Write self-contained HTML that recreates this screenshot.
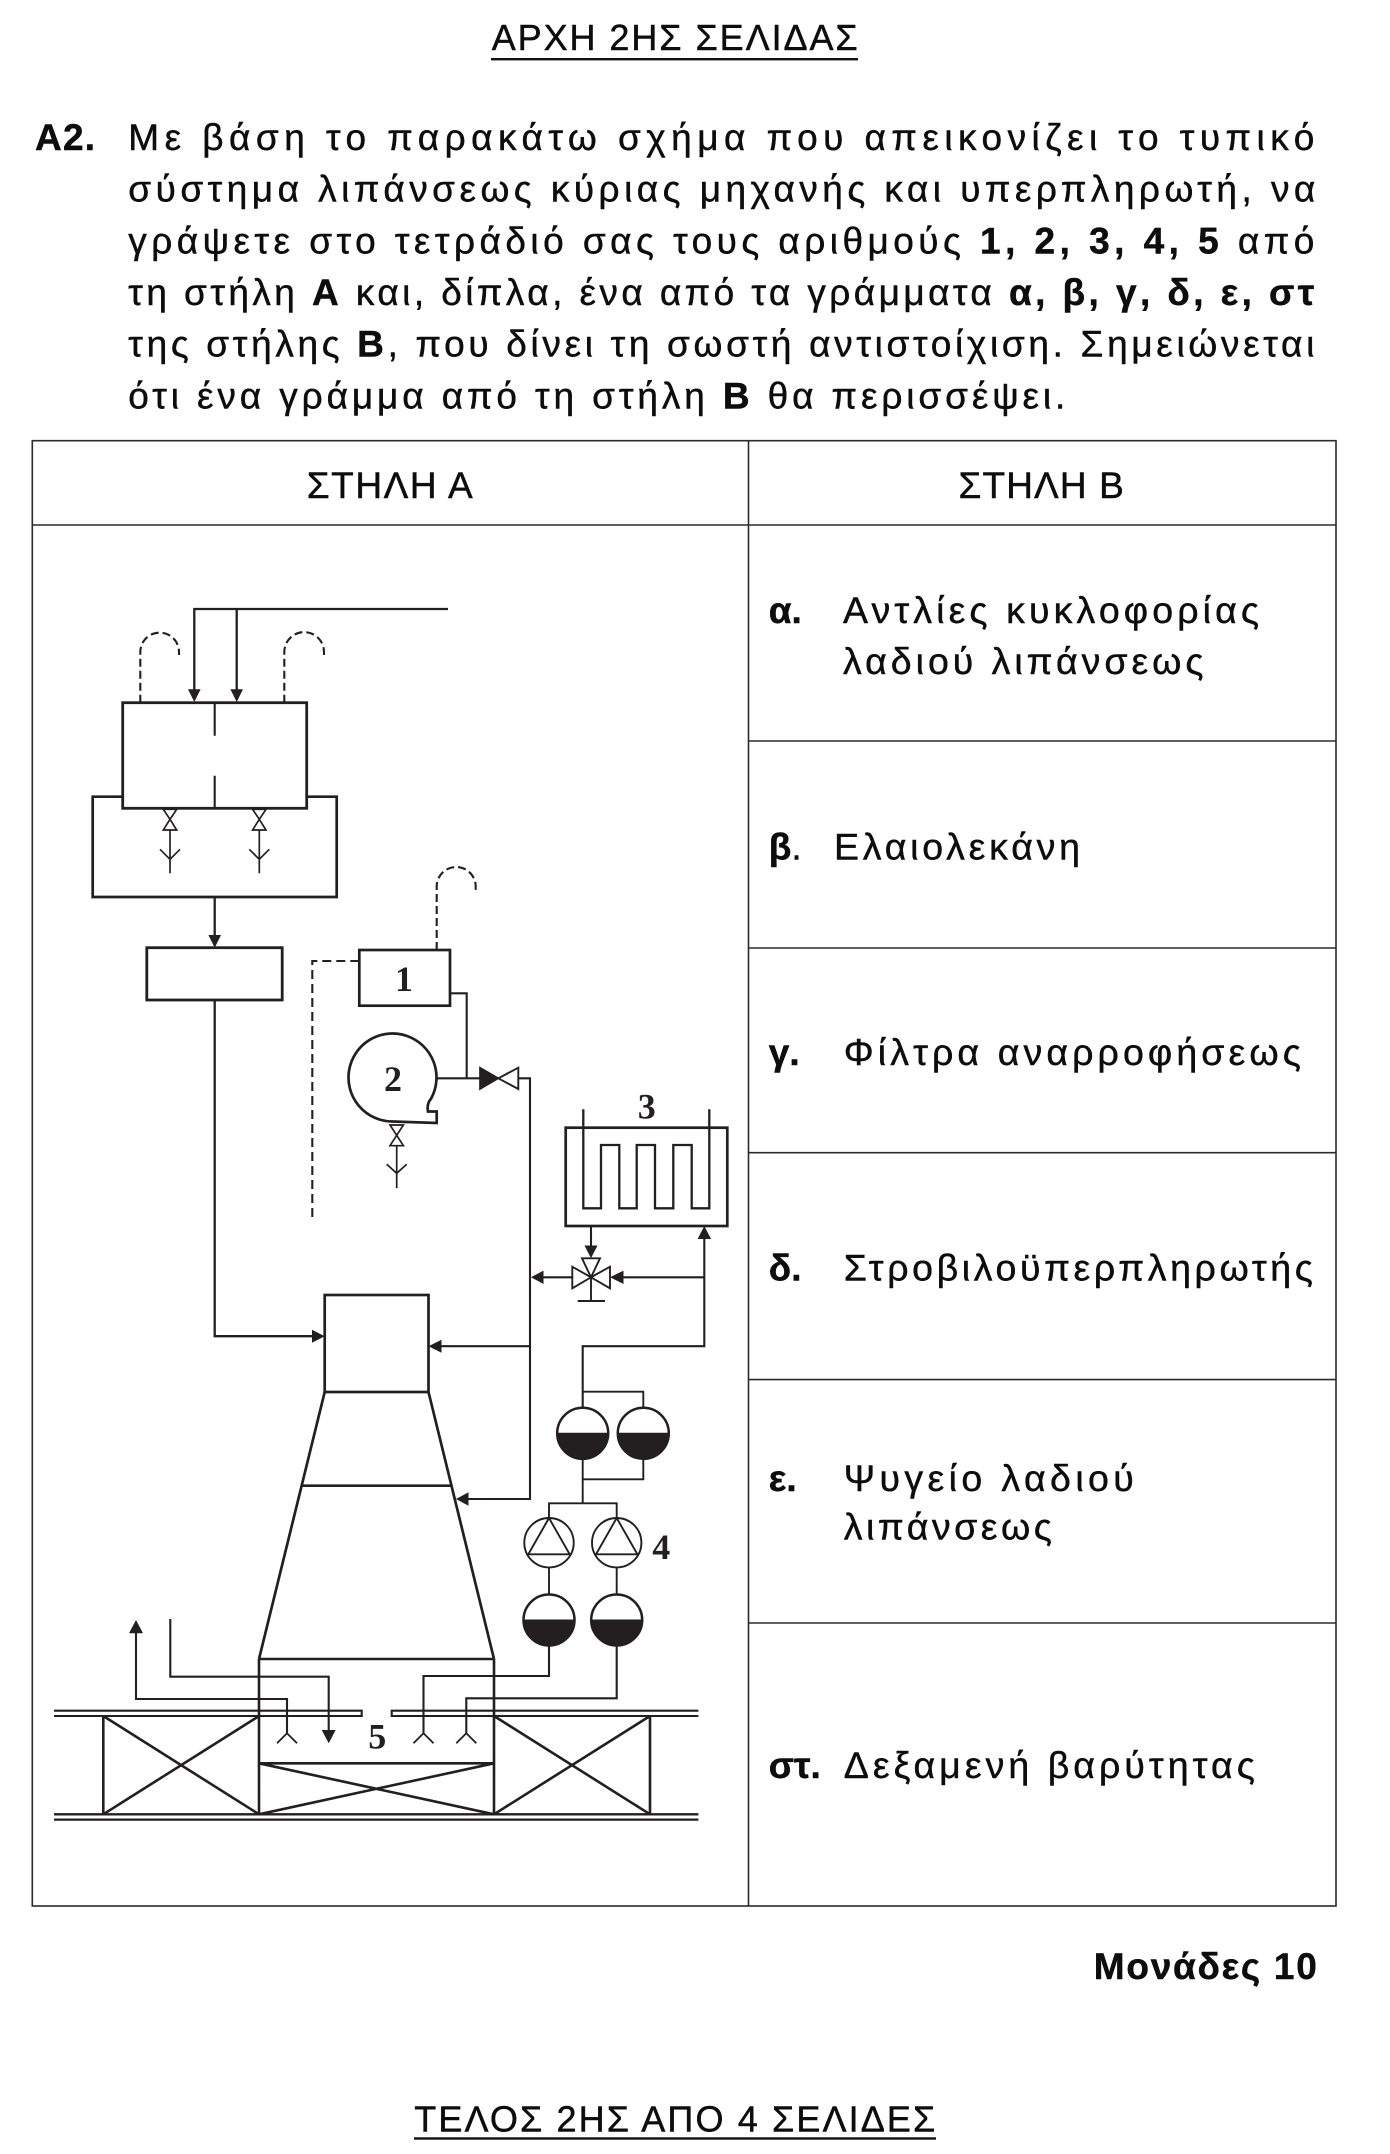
<!DOCTYPE html>
<html><head><meta charset="utf-8"><style>
html,body{margin:0;padding:0;background:#fff}
svg{display:block}
.t{font-family:"Liberation Sans",sans-serif;fill:#0d0d0d;stroke:#0d0d0d;stroke-width:0.45px}
.n{font-family:"Liberation Serif",serif;font-weight:bold;fill:#231f20;font-size:36px}
</style></head><body>
<svg width="1390" height="2154" viewBox="0 0 1390 2154" xmlns="http://www.w3.org/2000/svg">
<rect width="1390" height="2154" fill="#fff"/>

<!-- Title -->
<text class="t" x="491.7" y="50" font-size="36" textLength="366" lengthAdjust="spacing">ΑΡΧΗ 2ΗΣ ΣΕΛΙΔΑΣ</text>
<rect x="491" y="58" width="367" height="2.4" fill="#111"/>

<!-- Paragraph -->
<text class="t" x="35" y="150" font-size="37" font-weight="bold" textLength="60" lengthAdjust="spacing">Α2.</text>
<text class="t" x="128.3" y="150" font-size="37" textLength="1186" lengthAdjust="spacing">Με βάση το παρακάτω σχήμα που απεικονίζει το τυπικό</text>
<text class="t" x="128.3" y="201.7" font-size="37" textLength="1187" lengthAdjust="spacing">σύστημα λιπάνσεως κύριας μηχανής και υπερπληρωτή, να</text>
<text class="t" x="128.3" y="253.3" font-size="37" textLength="1186" lengthAdjust="spacing">γράψετε στο τετράδιό σας τους αριθμούς <tspan font-weight="bold">1, 2, 3, 4, 5</tspan> από</text>
<text class="t" x="128.3" y="305" font-size="37" textLength="1186" lengthAdjust="spacing">τη στήλη <tspan font-weight="bold">Α</tspan> και, δίπλα, ένα από τα γράμματα <tspan font-weight="bold">α, β, γ, δ, ε, στ</tspan></text>
<text class="t" x="128.3" y="356.7" font-size="37" textLength="1186" lengthAdjust="spacing">της στήλης <tspan font-weight="bold">Β</tspan>, που δίνει τη σωστή αντιστοίχιση. Σημειώνεται</text>
<text class="t" x="128.3" y="408.3" font-size="37" textLength="937" lengthAdjust="spacing">ότι ένα γράμμα από τη στήλη <tspan font-weight="bold">Β</tspan> θα περισσέψει.</text>

<!-- Table -->
<g stroke="#2b2b2b" stroke-width="1.6" fill="none">
<rect x="32.3" y="440.7" width="1303.7" height="1465.3"/>
<line x1="32.3" y1="525" x2="1336" y2="525"/>
<line x1="748.5" y1="440.7" x2="748.5" y2="1906"/>
<line x1="748.5" y1="741" x2="1336" y2="741"/>
<line x1="748.5" y1="948" x2="1336" y2="948"/>
<line x1="748.5" y1="1152.7" x2="1336" y2="1152.7"/>
<line x1="748.5" y1="1379.6" x2="1336" y2="1379.6"/>
<line x1="748.5" y1="1623" x2="1336" y2="1623"/>
</g>
<text class="t" x="306.7" y="498" font-size="37" textLength="166" lengthAdjust="spacing">ΣΤΗΛΗ Α</text>
<text class="t" x="958.5" y="498" font-size="37" textLength="165.3" lengthAdjust="spacing">ΣΤΗΛΗ Β</text>

<!-- Column B -->
<text class="t" x="768.8" y="623" font-size="37" font-weight="bold">α.</text>
<text class="t" x="843" y="623" font-size="37.5" textLength="416" lengthAdjust="spacing">Αντλίες κυκλοφορίας</text>
<text class="t" x="843" y="674" font-size="37.5" textLength="360.5" lengthAdjust="spacing">λαδιού λιπάνσεως</text>

<text class="t" x="768.8" y="859.6" font-size="37"><tspan font-weight="bold">β</tspan>.</text>
<text class="t" x="834" y="859.6" font-size="37.5" textLength="246" lengthAdjust="spacing">Ελαιολεκάνη</text>

<text class="t" x="768.8" y="1065" font-size="37" font-weight="bold">γ.</text>
<text class="t" x="843.8" y="1065" font-size="37.5" textLength="457" lengthAdjust="spacing">Φίλτρα αναρροφήσεως</text>

<text class="t" x="768.8" y="1280.4" font-size="37" font-weight="bold">δ.</text>
<text class="t" x="843.8" y="1280.4" font-size="37.5" textLength="469" lengthAdjust="spacing">Στροβιλοϋπερπληρωτής</text>

<text class="t" x="768.8" y="1491" font-size="37" font-weight="bold">ε.</text>
<text class="t" x="843.8" y="1491" font-size="37.5" textLength="290" lengthAdjust="spacing">Ψυγείο λαδιού</text>
<text class="t" x="843.8" y="1539.6" font-size="37.5" textLength="208" lengthAdjust="spacing">λιπάνσεως</text>

<text class="t" x="768.8" y="1778" font-size="37" font-weight="bold" textLength="52" lengthAdjust="spacing">στ.</text>
<text class="t" x="843.8" y="1778" font-size="37.5" textLength="411" lengthAdjust="spacing">Δεξαμενή βαρύτητας</text>

<!-- Footer -->
<text class="t" x="1093.8" y="1979" font-size="37" font-weight="bold" textLength="223" lengthAdjust="spacing">Μονάδες 10</text>
<text class="t" x="414.3" y="2131.7" font-size="36" textLength="521" lengthAdjust="spacing">ΤΕΛΟΣ 2ΗΣ ΑΠΟ 4 ΣΕΛΙΔΕΣ</text>
<rect x="414" y="2137.3" width="522" height="2.4" fill="#111"/>

<!-- ================= DIAGRAM ================= -->
<g stroke="#231f20" fill="none" stroke-linejoin="miter">

<!-- top feed lines -->
<path d="M194.3 690 V609 H448 M236.7 609 V690" stroke-width="2.3"/>
<!-- dashed hooks on upper tank -->
<path d="M140.3 702.7 V652 A19.35 19.35 0 0 1 179 652 V655" stroke-width="2.1" stroke-dasharray="8 4"/>
<path d="M284.3 702.7 V652 A19.85 19.85 0 0 1 324 652 V655" stroke-width="2.1" stroke-dasharray="8 4"/>

<!-- lower tank (behind) -->
<path d="M122.7 796.7 H92.7 V897 H336.7 V796.7 H306.7" stroke-width="2.7"/>
<!-- upper tank -->
<rect x="122.7" y="702.7" width="184" height="105.6" stroke-width="2.8" fill="#fff"/>
<path d="M214.7 702.7 V735.7 M214.7 775.7 V808.3" stroke-width="2.1"/>

<!-- drain valves of tank -->
<g stroke-width="1.7">
<path d="M163.3 809.3 H176.7 L170 819.3 Z M170 819.3 L163.3 830 H176.7 Z" fill="#fff"/>
<path d="M170 830 V873.3 M160 849.3 L170 859.3 L180 849.3" />
<path d="M252.6 809.3 H266 L259.3 819.3 Z M259.3 819.3 L252.6 830 H266 Z" fill="#fff"/>
<path d="M259.3 830 V873.3 M249.3 849.3 L259.3 859.3 L269.3 849.3" />
</g>

<!-- arrow to filter box -->
<path d="M214.7 897 V936" stroke-width="2.3"/>
<!-- filter box -->
<rect x="146.8" y="947.7" width="135.4" height="52.3" stroke-width="2.8"/>
<!-- line to engine -->
<path d="M214.7 1000 V1336.2 H313" stroke-width="2.3"/>

<!-- box 1 and dashed -->
<rect x="359.3" y="950" width="90.7" height="55.7" stroke-width="2.7"/>
<path d="M359.3 961 H312.3 V1220" stroke-width="2.1" stroke-dasharray="9 5"/>
<path d="M436.7 950 V886.5 A19.5 19.5 0 0 1 475.7 886.5 V890" stroke-width="2.1" stroke-dasharray="8 4"/>
<path d="M450 993.3 H466.7 V1078.3" stroke-width="2.1"/>

<!-- pump 2 -->
<path d="M431 1098.8 A44 44 0 1 0 392.5 1121.5 L436.7 1123 L436.7 1111.5 L428 1111.5 Q426.5 1104 431 1098.8 Z" stroke-width="2.7" fill="#fff"/>
<path d="M436.5 1078.3 H480" stroke-width="2.1"/>
<g stroke-width="1.7">
<path d="M390 1125 H403.4 L396.7 1135.3 Z M396.7 1135.3 L390 1145.7 H403.4 Z" fill="#fff"/>
<path d="M396.7 1145.7 V1188.3 M386.7 1164.3 L396.7 1173.3 L406.7 1164.3"/>
</g>

<!-- check valve -->
<path d="M480 1067.7 V1089 L498.3 1078.3 Z" fill="#231f20" stroke-width="1.7"/>
<path d="M498.3 1078.3 L518.3 1067.7 V1089 Z" fill="#fff" stroke-width="1.9"/>
<path d="M518.3 1078.3 H530 V1499 H468" stroke-width="2.1"/>
<path d="M530 1346.2 H441" stroke-width="2.1"/>

<!-- cooler 3 -->
<rect x="565.7" y="1127.7" width="161.6" height="98.3" stroke-width="2.7"/>
<path d="M583.3 1109.3 V1208.3 H601 V1145 H619.3 V1208.3 H636.7 V1145 H655 V1208.3 H673.3 V1145 H691.7 V1208.3 H709.3 V1109.3" stroke-width="2.3"/>
<path d="M591 1226 V1246" stroke-width="2.1"/>
<!-- 3-way valve -->
<g stroke-width="1.9" fill="#fff">
<path d="M582 1258.3 H600 L591 1277.3 Z"/>
<path d="M572.3 1266.7 V1288.3 L591 1277.3 Z"/>
<path d="M610 1266.7 V1288.3 L591 1277.3 Z"/>
</g>
<path d="M591 1277.3 V1301 M577.7 1301 H605" stroke-width="1.9"/>
<path d="M572.3 1277.3 H543" stroke-width="2.1"/>
<path d="M704.3 1277.3 H623" stroke-width="2.1"/>
<path d="M582.7 1407.8 V1346.2 H704.3 V1239" stroke-width="2.1"/>

<!-- filters upper -->
<path d="M582.7 1391.7 H643.3 V1407.8" stroke-width="1.9"/>
<path d="M582.7 1458.8 V1503.3 M643.3 1458.8 V1479.3 H582.7 M549 1517.9 V1503.3 H616.7 V1517.9" stroke-width="1.9"/>
<circle cx="582.7" cy="1433.3" r="25.5" stroke-width="2.5" fill="#fff"/>
<circle cx="643.3" cy="1433.3" r="25.5" stroke-width="2.5" fill="#fff"/>
<path d="M557.2 1433.3 A25.5 25.5 0 0 0 608.2 1433.3 Z M617.8 1433.3 A25.5 25.5 0 0 0 668.8 1433.3 Z" fill="#231f20" stroke-width="1"/>

<!-- pumps 4 -->
<circle cx="549" cy="1542.7" r="24.7" stroke-width="1.9" fill="#fff"/>
<circle cx="616.7" cy="1542.7" r="24.7" stroke-width="1.9" fill="#fff"/>
<path d="M549 1518 L528.3 1554.3 H569.7 Z M616.7 1518 L596 1554.3 H637.4 Z" stroke-width="1.9"/>
<path d="M549 1567.4 V1594.5 M616.7 1567.4 V1594.5" stroke-width="1.9"/>

<!-- filters lower -->
<circle cx="549" cy="1620" r="25.5" stroke-width="2.5" fill="#fff"/>
<circle cx="616.7" cy="1620" r="25.5" stroke-width="2.5" fill="#fff"/>
<path d="M523.5 1620 A25.5 25.5 0 0 0 574.5 1620 Z M591.2 1620 A25.5 25.5 0 0 0 642.2 1620 Z" fill="#231f20" stroke-width="1"/>
<path d="M549 1645.5 V1676 H423.5 V1733.3 M616.7 1645.5 V1698.3 H466.3 V1733.3" stroke-width="2.1"/>

<!-- left pipes -->
<path d="M136 1633 V1699 H287 V1733.3" stroke-width="2.1"/>
<path d="M170.3 1619 V1676.7 H328.7 V1731" stroke-width="2.1"/>
<!-- nozzles -->
<path d="M277 1743.3 L287 1733.3 L297 1743.3 M413.5 1743.3 L423.5 1733.3 L433.5 1743.3 M456.3 1743.3 L466.3 1733.3 L476.3 1743.3" stroke-width="1.8"/>

<!-- engine -->
<rect x="324.7" y="1295" width="103.8" height="97" stroke-width="2.7" fill="#fff"/>
<path d="M324.7 1392 L259 1659 M428.5 1392 L494 1659 M301.6 1485.7 H451.5" stroke-width="2.7"/>
<path d="M259 1659 H494 M259 1659 V1814.3 M494 1659 V1814.3 M259 1763.3 H494 M259 1763.3 L494 1814.3 M259 1814.3 L494 1763.3" stroke-width="2.6"/>
<!-- side boxes -->
<path d="M103.3 1716 V1814.3 M103.3 1716 L259 1814.3 M103.3 1814.3 L259 1716" stroke-width="2.6"/>
<path d="M650 1716 V1814.3 M494 1716 L650 1814.3 M494 1814.3 L650 1716" stroke-width="2.6"/>
<!-- rails -->
<path d="M54 1710.7 H361.7 V1716 H54 M698.4 1710.7 H391.7 V1716 H698.4" stroke-width="2.1"/>
<path d="M54 1814.3 H698.4 M54 1819.6 H698.4" stroke-width="2.3"/>
</g>

<!-- arrowheads -->
<g fill="#231f20">
<polygon points="194.3,702 188,689.3 200.6,689.3"/>
<polygon points="236.7,702 230.4,689.3 243,689.3"/>
<polygon points="214.7,947.7 208.4,935 221,935"/>
<polygon points="324.7,1336.2 312,1329.7 312,1342.7"/>
<polygon points="428.5,1346.2 441.5,1339.7 441.5,1352.7"/>
<polygon points="456,1499 468.5,1492.3 468.5,1505.7"/>
<polygon points="531,1277.3 543.5,1270.6 543.5,1284"/>
<polygon points="610,1277.3 623.5,1270.6 623.5,1284"/>
<polygon points="591,1258.3 584.5,1245.5 597.5,1245.5"/>
<polygon points="704.3,1226 697.6,1239 711,1239"/>
<polygon points="136,1620 129,1633.3 143,1633.3"/>
<polygon points="328.7,1743.3 321.7,1730 335.7,1730"/>
</g>

<!-- numeric labels -->
<text class="n" x="404" y="991" text-anchor="middle">1</text>
<text class="n" x="393" y="1091" text-anchor="middle">2</text>
<text class="n" x="646.7" y="1118.3" text-anchor="middle">3</text>
<text class="n" x="652.3" y="1559">4</text>
<text class="n" x="368.3" y="1748.3">5</text>
</svg>
</body></html>
